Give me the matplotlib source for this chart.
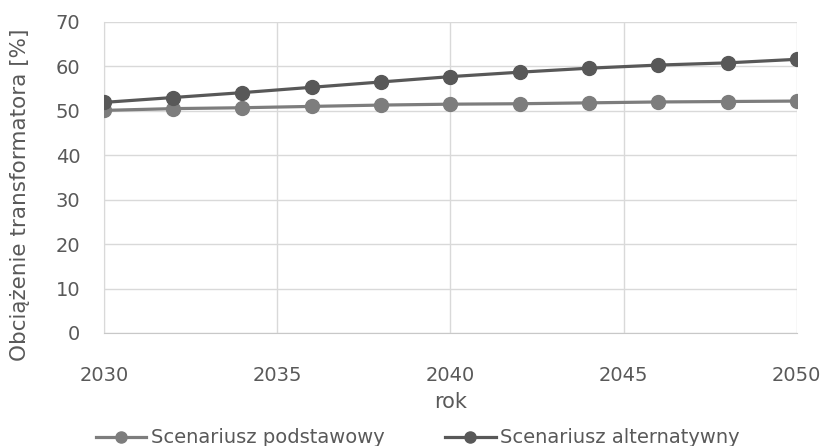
import matplotlib.pyplot as plt

plt.rcParams['font.family'] = ['DejaVu Sans']

# --- Data ---
years = [2030, 2032, 2034, 2036, 2038, 2040, 2042, 2044, 2046, 2048, 2050]
podstawowy = [50.1, 50.5, 50.7, 51.0, 51.3, 51.5, 51.6, 51.8, 52.0, 52.1, 52.2]
alternatywny = [51.9, 53.0, 54.1, 55.3, 56.5, 57.7, 58.7, 59.6, 60.3, 60.8, 61.6]
xticks = [2030, 2035, 2040, 2045, 2050]
yticks = [0, 10, 20, 30, 40, 50, 60, 70]

text_col = '#595959'

fig = plt.figure(figsize=(8.24, 4.46), dpi=100)
ax = fig.add_axes([0.126, 0.2534, 0.841, 0.6973])

ax.plot(years, podstawowy, color='#7d7d7d', lw=2.3, marker='o', ms=10,
        label='Scenariusz podstawowy', zorder=3)
ax.plot(years, alternatywny, color='#585858', lw=2.3, marker='o', ms=10,
        label='Scenariusz alternatywny', zorder=3)

ax.set_xlim(2030, 2050)
ax.set_ylim(0, 70)
ax.set_xticks(xticks)
ax.set_yticks(yticks)
ax.grid(True, color='#d9d9d9', lw=1)
ax.set_axisbelow(True)
for s in ['top', 'right']:
    ax.spines[s].set_visible(False)
ax.spines['left'].set_color('#d9d9d9')
ax.spines['bottom'].set_color('#c8c8c8')
ax.tick_params(axis='x', length=0, labelsize=14, colors=text_col, pad=24)
ax.tick_params(axis='y', length=0, labelsize=14, colors=text_col, pad=17)

ax.set_xlabel('rok', fontsize=15, color=text_col, va='center')
ax.xaxis.set_label_coords(0.5, -0.222)
ax.set_ylabel('Obciążenie transformatora [%]', fontsize=15.5, color=text_col,
              va='center')
ax.yaxis.set_label_coords(-0.121, 0.444)

fig.legend(*ax.get_legend_handles_labels(), loc='center',
           bbox_to_anchor=(0.507, 0.018), ncol=2, frameon=False,
           fontsize=14, labelcolor=text_col, handlelength=2.6, columnspacing=3.1,
           handletextpad=0.25, markerscale=0.8)

fig.savefig('out.png', dpi=100)
